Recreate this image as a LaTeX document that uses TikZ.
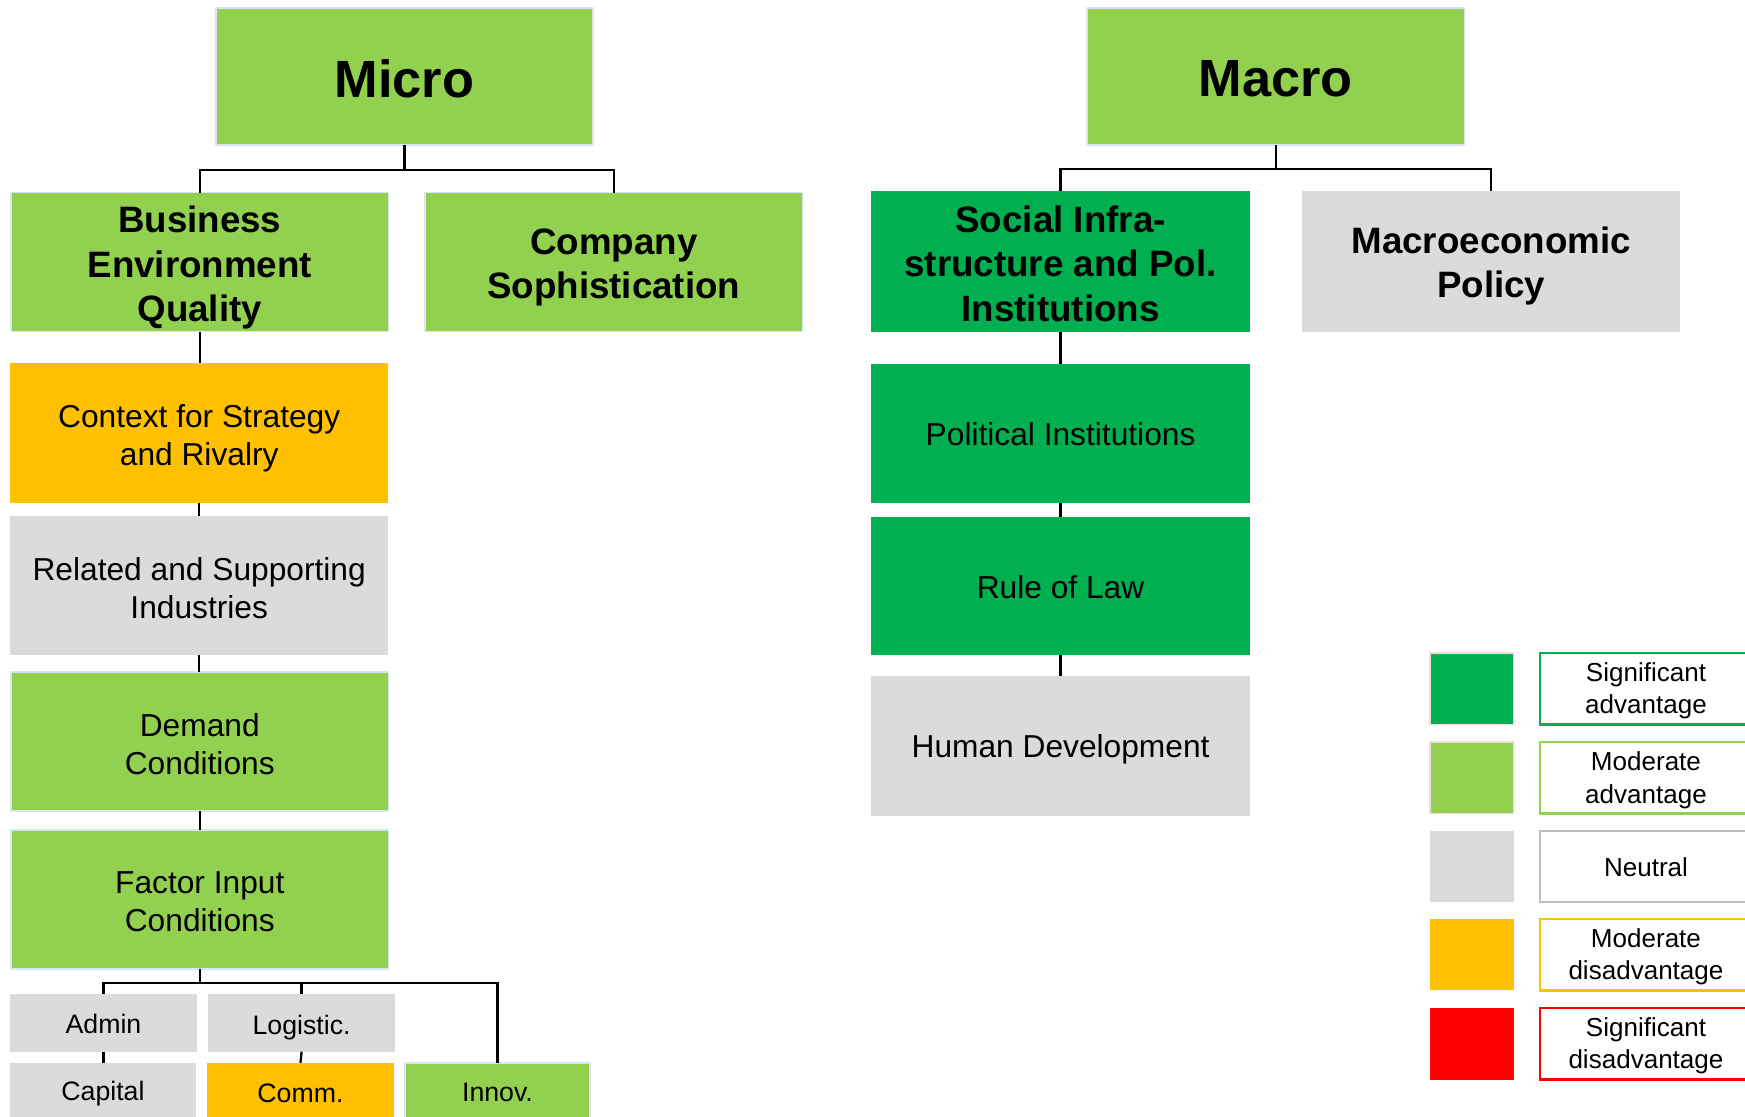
\documentclass[tikz,border=0pt]{standalone}
\usepackage{fontspec}
\setmainfont{Liberation Sans}
\definecolor{lgreen}{HTML}{92D050}
\definecolor{dgreen}{HTML}{00B050}
\definecolor{orng}{HTML}{FFC000}
\definecolor{gry}{HTML}{DBDBDB}
\definecolor{rd}{HTML}{FF0000}
\definecolor{paleedge}{HTML}{DCE6F2}
\definecolor{pinkedge}{HTML}{F2DCDB}
\definecolor{gryedge}{HTML}{BFBFBF}
\tikzset{
  box/.style={rectangle, inner sep=0pt, outer sep=0pt, align=center, text=black},
  lgbox/.style={box, fill=lgreen, draw=paleedge, line width=1.5pt},
  dgbox/.style={box, fill=dgreen},
  grbox/.style={box, fill=gry},
  orbox/.style={box, fill=orng},
  txt/.style={inner sep=0pt, outer sep=0pt, align=center, text=black},
  titlefont/.style={txt, font=\fontsize{47}{56}\selectfont\bfseries},
  headfont/.style={txt, font=\fontsize{33}{40}\selectfont\bfseries},
  bodyfont/.style={txt, font=\fontsize{28.5}{34}\selectfont},
  smallfont/.style={txt, font=\fontsize{24}{29}\selectfont},
  legfont/.style={txt, font=\fontsize{23.4}{29}\selectfont},
  conn/.style={draw=black, line width=2pt},
  legbox/.style={box, fill=white, line width=2pt, minimum width=190pt, minimum height=64pt},
  swatch/.style={box, minimum width=75pt, minimum height=64pt},
}
% #1 box style, #2 name, #3 centre, #4 width, #5 height, #6 text drop, #7 text style, #8 text
\newcommand\tbox[8]{%
  \node[#1, minimum width=#4pt, minimum height=#5pt] (#2) at #3 {};
  \node[#7] (#2t) at ([yshift=-#6pt]#2.center) {#8};}
\begin{document}
\begin{tikzpicture}[x=1pt,y=-1pt]
\clip (0,0) rectangle (1568,1003);
\fill[white] (0,0) rectangle (1568,1003);

% top level
\tbox{lgbox}{micro}{(363.5,68.5)}{339}{123}{2}{titlefont}{Micro}
\tbox{lgbox}{macro}{(1146.5,68.5)}{339}{123}{2}{titlefont}{Macro}

% second level
\tbox{lgbox}{beq}{(179.5,235.5)}{339}{125}{5}{headfont}{Business\\Environment\\Quality}
\tbox{lgbox}{cs}{(551.5,235.5)}{339}{125}{5}{headfont}{Company\\Sophistication}
\tbox{dgbox}{si}{(953,235)}{340}{126}{2}{headfont}{Social Infra-\\structure and Pol.\\Institutions}
\tbox{grbox}{mp}{(1340,235)}{340}{126}{4}{headfont}{Macroeconomic\\Policy}

% left column
\tbox{orbox}{ctx}{(179,389)}{340}{126}{5}{bodyfont}{Context for Strategy\\and Rivalry}
\tbox{grbox}{rel}{(179,526.5)}{340}{125}{2}{bodyfont}{Related and Supporting\\Industries}
\tbox{lgbox}{dem}{(179.5,666.5)}{339}{125}{2}{bodyfont}{Demand\\Conditions}
\tbox{lgbox}{fac}{(179.5,808.5)}{339}{125}{2}{bodyfont}{Factor Input\\Conditions}

% bottom row
\tbox{grbox}{adm}{(93,919)}{168}{52}{1}{smallfont}{Admin}
\tbox{grbox}{log}{(271,919)}{168}{52}{4}{smallfont}{Logistic.}
\tbox{grbox}{cap}{(92.5,981)}{167}{52}{2}{smallfont}{Capital}
\tbox{orbox}{comm}{(270,981)}{168}{52}{1}{smallfont}{Comm.}
\tbox{lgbox}{inn}{(447,981)}{166}{52}{1}{smallfont}{Innov.}

% right column
\tbox{dgbox}{pol}{(953,389.5)}{340}{125}{1}{bodyfont}{Political Institutions}
\tbox{dgbox}{rol}{(953,527)}{340}{124}{1}{bodyfont}{Rule of Law}
\tbox{grbox}{hd}{(953,670)}{340}{126}{3}{bodyfont}{Human Development}

% connectors
\coordinate (mj) at (363.5,153);
\coordinate (Mj) at (1146.5,152);
\coordinate (fj) at (179.5,883);
\draw[conn] (micro.south) -- (mj);
\draw[conn] (beq.north) |- (mj) -| (cs.north);
\draw[conn] (macro.south) -- (Mj);
\draw[conn] (si.north) |- (Mj) -| (mp.north);
\draw[conn] (beq.south) -- (ctx.north -| beq.south);
\draw[conn] (ctx.south) -- (rel.north);
\draw[conn] (rel.south) -- (dem.north -| rel.south);
\draw[conn] (dem.south) -- (fac.north);
\draw[conn] (fac.south) -- (fj);
\draw[conn] (adm.north) |- (fj) -| (inn.north);
\draw[conn] (log.north) -- (log.north |- fj);
\draw[conn] (adm.south) -- (cap.north -| adm.south);
\draw[conn] (log.south) -- (comm.north);
\draw[conn] (si.south) -- (pol.north);
\draw[conn] (pol.south) -- (rol.north);
\draw[conn] (rol.south) -- (hd.north);

% legend
\node[swatch, fill=dgreen, draw=pinkedge, line width=1.5pt] (s1) at (1322.5,619) {};
\node[swatch, fill=lgreen, draw=pinkedge, line width=1.5pt] (s2) at (1322.5,699) {};
\node[swatch, fill=gry] (s3) at (1322.5,778.5) {};
\node[swatch, fill=orng] (s4) at (1322.5,858) {};
\node[swatch, fill=rd] (s5) at (1322.5,938) {};
\tbox{legbox, draw=dgreen}{l1}{(1479,619)}{190}{64}{2}{legfont}{Significant\\advantage}
\tbox{legbox, draw=lgreen}{l2}{(1479,699)}{190}{64}{2}{legfont}{Moderate\\advantage}
\tbox{legbox, draw=gryedge}{l3}{(1479,778.5)}{190}{64}{1}{legfont}{Neutral}
\tbox{legbox, draw=orng}{l4}{(1479,858)}{190}{64}{2}{legfont}{Moderate\\disadvantage}
\tbox{legbox, draw=rd}{l5}{(1479,938)}{190}{64}{2}{legfont}{Significant\\disadvantage}
\end{tikzpicture}
\end{document}
